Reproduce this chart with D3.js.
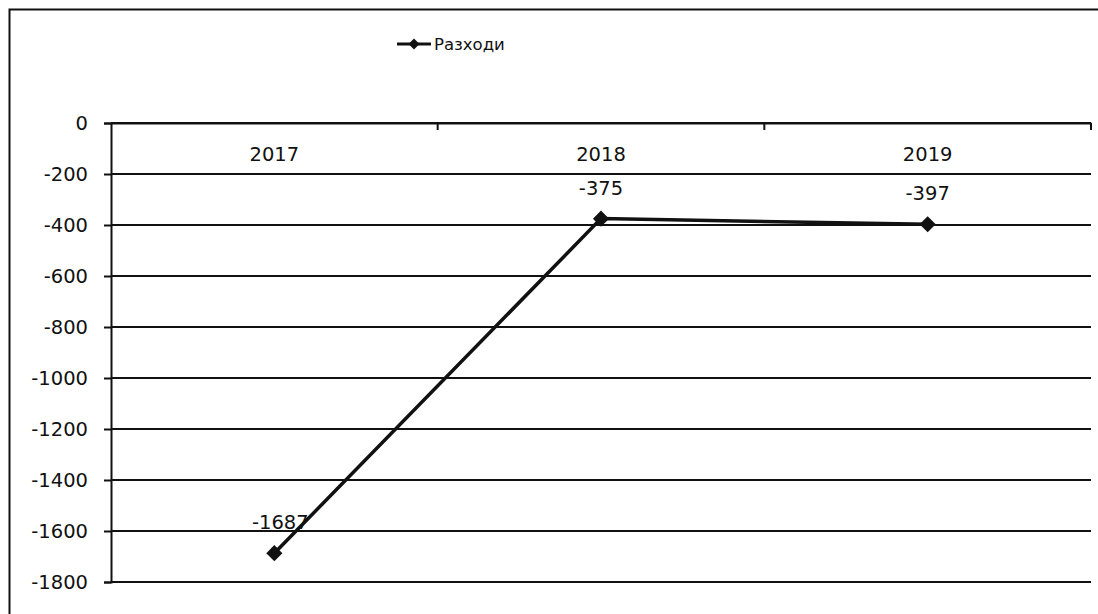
<!DOCTYPE html>
<html>
<head>
<meta charset="utf-8">
<script src="https://cdn.jsdelivr.net/npm/d3@7"></script>
<style>
  body { margin: 0; background: #fff; }
  text { font-family: "DejaVu Sans", sans-serif; fill: #111; }
</style>
</head>
<body>
<div id="chart"></div>
<script>
// data
var years = ["2017", "2018", "2019"];
var expenses = [-1687, -375, -397];
var yTicks = [0, -200, -400, -600, -800, -1000, -1200, -1400, -1600, -1800];
var seriesName = "Разходи";

var W = 1098, H = 614;
var margin = {top: 123, left: 111, right: 7, bottom: 32};

var svg = d3.select("#chart").append("svg")
    .attr("width", W).attr("height", H);

// chart border (runs off the bottom/right of the scan)
svg.append("rect")
    .attr("x", 9.5).attr("y", 9.5)
    .attr("width", 1200).attr("height", 700)
    .attr("fill", "none").attr("stroke", "#111").attr("stroke-width", 2);

var x = d3.scaleBand().domain(years).range([margin.left, W - margin.right]);
var y = d3.scaleLinear().domain([0, -1800]).range([margin.top, H - margin.bottom]);

// gridlines
svg.append("g").selectAll("line")
  .data(yTicks)
  .enter().append("line")
    .attr("x1", margin.left).attr("x2", W - margin.right)
    .attr("y1", function(d){ return y(d); })
    .attr("y2", function(d){ return y(d); })
    .attr("stroke", "#111").attr("stroke-width", 2);

// y axis
var yAxis = svg.append("g")
    .attr("transform", "translate(" + margin.left + ",0)")
    .call(d3.axisLeft(y).tickValues(yTicks).tickSize(7).tickPadding(16)
      .tickFormat(function(d){ return String(d); }));
yAxis.select(".domain").attr("stroke", "#111").attr("stroke-width", 2);
yAxis.selectAll(".tick line").attr("stroke", "#111").attr("stroke-width", 2);
yAxis.selectAll("text").style("font-size", "19.5px").attr("fill", "#111");

// x axis on the zero line, labels below it
var xAxis = svg.append("g")
    .attr("transform", "translate(0," + y(0) + ")")
    .call(d3.axisBottom(x).tickSize(0).tickPadding(24));
xAxis.select(".domain").attr("stroke", "#111").attr("stroke-width", 2);
xAxis.selectAll("text").style("font-size", "19.5px").attr("fill", "#111");
// excel-style tick marks at category borders
svg.append("g").selectAll("line")
  .data(years)
  .enter().append("line")
    .attr("x1", function(d){ return x(d) + x.bandwidth(); })
    .attr("x2", function(d){ return x(d) + x.bandwidth(); })
    .attr("y1", y(0)).attr("y2", y(0) + 7)
    .attr("stroke", "#111").attr("stroke-width", 2);

// series line
var line = d3.line()
    .x(function(d, i){ return x(years[i]) + x.bandwidth() / 2; })
    .y(function(d){ return y(d); });

svg.append("path")
    .datum(expenses)
    .attr("d", line)
    .attr("fill", "none").attr("stroke", "#111").attr("stroke-width", 3.5);

// diamond markers (square turned 45deg)
var marker = d3.symbol().type(d3.symbolSquare).size(130);
svg.append("g").selectAll("path")
  .data(expenses)
  .enter().append("path")
    .attr("d", marker)
    .attr("transform", function(d, i){
      return "translate(" + (x(years[i]) + x.bandwidth() / 2) + "," + y(d) + ") rotate(45)";
    })
    .attr("fill", "#111");

// data labels
svg.append("g").selectAll("text")
  .data(expenses)
  .enter().append("text")
    .attr("x", function(d, i){ return x(years[i]) + x.bandwidth() / 2 + (i == 0 ? 6 : 0); })
    .attr("y", function(d){ return y(d) - 24; })
    .attr("text-anchor", "middle")
    .style("font-size", "19.5px")
    .text(function(d){ return d; });

// legend
var lg = svg.append("g").attr("transform", "translate(397,44)");
lg.append("line").attr("x1", 0).attr("x2", 34).attr("y1", 0).attr("y2", 0)
    .attr("stroke", "#111").attr("stroke-width", 3);
lg.append("path").attr("d", d3.symbol().type(d3.symbolSquare).size(60))
    .attr("transform", "translate(17,0) rotate(45)").attr("fill", "#111");
lg.append("text").attr("x", 37).attr("y", 6)
    .style("font-size", "16.5px")
    .text(seriesName);
</script>
</body>
</html>
